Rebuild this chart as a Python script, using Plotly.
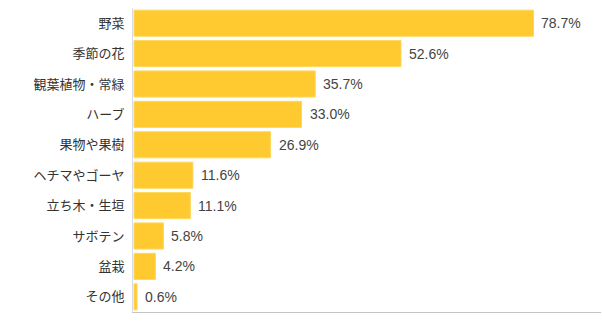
import plotly.graph_objects as go

categories = ["野菜", "季節の花", "観葉植物・常緑", "ハーブ", "果物や果樹",
              "ヘチマやゴーヤ", "立ち木・生垣", "サボテン", "盆栽", "その他"]
values = [78.7, 52.6, 35.7, 33.0, 26.9, 11.6, 11.1, 5.8, 4.2, 0.6]
labels = [f"{v:.1f}%" for v in values]

FONT = "Noto Sans CJK JP, Noto Sans, sans-serif"
NUMFONT = "Liberation Sans, Arial, sans-serif"

fig = go.Figure(go.Bar(
    x=values, y=categories, orientation="h",
    marker=dict(color="#FFCA30", line=dict(color="#FFD75C", width=1)),
    width=0.86, hoverinfo="skip",
))

for c, v, t in zip(categories, values, labels):
    fig.add_annotation(x=v, y=c, text=t, showarrow=False, xanchor="left",
                       xshift=6, font=dict(family=NUMFONT, size=14, color="#444444"))

fig.update_layout(
    width=602, height=326,
    margin=dict(l=133, r=1, t=8, b=14),
    paper_bgcolor="white", plot_bgcolor="white",
    showlegend=False,
    font=dict(family=FONT, size=13, color="#333333"),
    xaxis=dict(range=[-0.2, 92], showgrid=False, zeroline=False, showticklabels=False,
               showline=True, linecolor="#c4c4c4", linewidth=1, ticks="", fixedrange=True),
    yaxis=dict(autorange="reversed", showgrid=False, zeroline=False,
               showline=True, linecolor="#d8dce6", linewidth=1, ticks="",
               ticklabelstandoff=5, tickfont=dict(family=FONT, size=13, color="#333333")),
)
fig.write_html("out.html")
